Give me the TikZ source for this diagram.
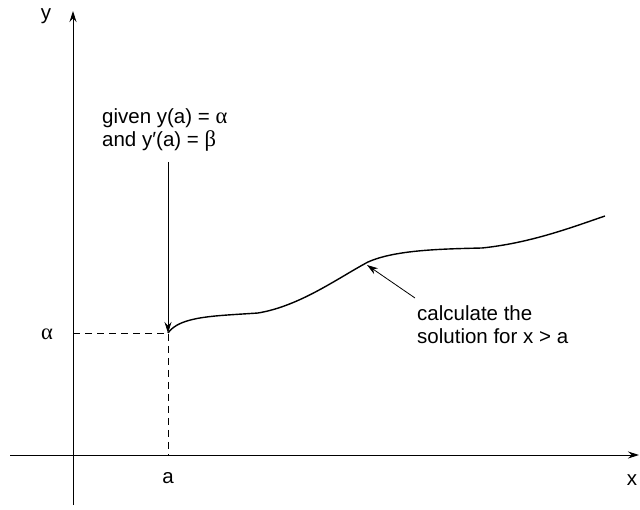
\documentclass[tikz,border=0pt]{standalone}
\usepackage{fontspec}
\setmainfont{Liberation Sans}
\newfontfamily\greekfont[Scale=1.1]{Liberation Serif}
\usetikzlibrary{arrows.meta}
\begin{document}
\begin{tikzpicture}[x=1pt,y=-1pt,>={Stealth[length=11pt,width=7pt]},
  font=\fontsize{20.5}{23}\selectfont,
  txt/.style={align=left,anchor=north west,inner sep=0pt}]
  \useasboundingbox (0,0) rectangle (640,510);
  % 坐标轴
  \coordinate (ybot) at (73,505);
  \coordinate (ytop) at (73,11);
  \coordinate (xleft) at (10,455);
  \coordinate (xright) at (639,455);
  \draw[line width=1pt,->] (ybot) -- (ytop);
  \draw[line width=1pt,->] (xleft) -- (xright);
  \node (ylab) at (46,16) {y};
  \node (xlab) at (632,480) {x};
  % 初始点
  \coordinate (start) at (168,333);
  \coordinate (alphaend) at (73,333);
  \coordinate (afoot) at (168,455);
  \draw[dashed,dash pattern=on 7pt off 5pt] (alphaend) -- (start) -- (afoot);
  \node (alab) at (47,334) {\greekfont α};
  \node (aval) at (168,478) {a};
  % 解曲线
  \draw[line width=1.4pt] (start) .. controls (180,316) and (215,316) .. (258,313)
    .. controls (300,306) and (338,278) .. (368,262)
    .. controls (395,250) and (440,249) .. (482,248)
    .. controls (530,243) and (570,228) .. (605,216);
  \coordinate (oncurve) at (367,265);
  % 说明文字
  \node[txt] (given) at (102,108) {given y(a) = {\greekfont α}\\and y′(a) = {\greekfont β}};
  \coordinate (gtop) at (168,162);
  \draw[line width=0.8pt,->] (gtop) -- (start);
  \node[txt] (calc) at (417,305) {calculate the\\solution for x > a};
  \coordinate (ctail) at (415,298);
  \draw[line width=0.8pt,->] (ctail) -- (oncurve);
\end{tikzpicture}
\end{document}
